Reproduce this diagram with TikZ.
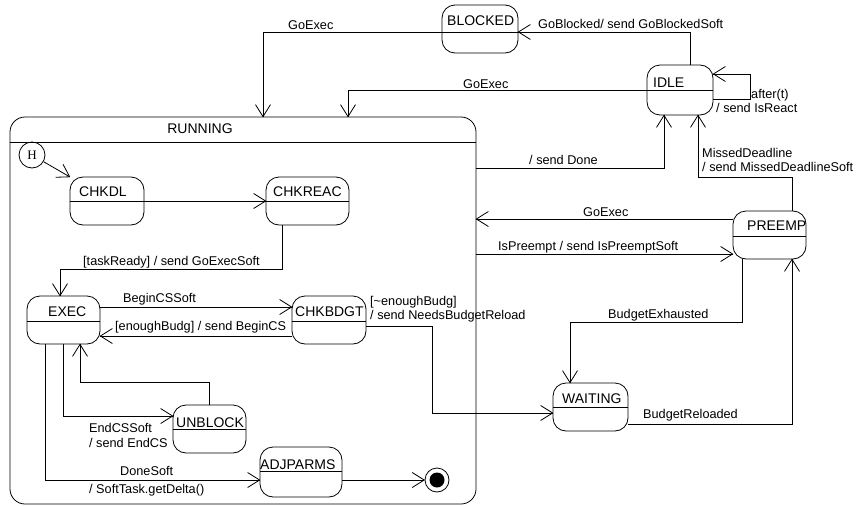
\documentclass[tikz,border=0pt]{standalone}
\usepackage{fontspec}
\setmainfont{Liberation Sans}
\newfontfamily\histfont{Liberation Serif}
\usetikzlibrary{arrows.meta}

\newcommand\lblfont{\fontsize{12.7}{14}\selectfont}
\newcommand\stfont{\fontsize{14}{16}\selectfont}

% open V arrow head made of two straight strokes
\pgfarrowsdeclare{vopen}{vopen}
{\pgfarrowsleftextend{-12pt}\pgfarrowsrightextend{0.4pt}}
{%
  \pgfsetdash{}{0pt}\pgfsetmiterjoin\pgfsetbuttcap
  \pgfpathmoveto{\pgfpoint{-12pt}{7.5pt}}%
  \pgfpathlineto{\pgfpoint{0pt}{0pt}}%
  \pgfpathlineto{\pgfpoint{-12pt}{-7.5pt}}%
  \pgfusepathqstroke
}

\tikzset{
  thinline/.style={line width=0.8pt},
  statebox/.style={draw, thinline, rounded corners=13pt, inner sep=0pt, outer sep=0pt},
  superbox/.style={draw, thinline, rounded corners=15pt, inner sep=0pt, outer sep=0pt},
  sname/.style={anchor=base west, inner sep=0pt, font=\stfont},
  tlabel/.style={anchor=base west, inner sep=0pt, font=\lblfont},
  trans/.style={thinline, -vopen},
}

% simple state: name, cx, cy, width, height, divider y, text x, text baseline y, text
\newcommand\umlstate[9]{%
  \node[statebox, minimum width=#4pt, minimum height=#5pt] (#1) at (#2,#3) {};
  \coordinate (#1-d) at (#2,#6);
  \draw[thinline] (#1.west |- #1-d) -- (#1.east |- #1-d);
  \node[sname] (#1-name) at (#7,#8) {#9};
}

\begin{document}
\begin{tikzpicture}[x=1pt, y=-1pt]
\useasboundingbox (0,0) rectangle (857,506);

% composite state RUNNING
\node[superbox, minimum width=466pt, minimum height=387pt, anchor=north west] (running) at (10,117) {};
\coordinate (run-d) at (0,142);
\draw[thinline] (running.west |- run-d) -- (running.east |- run-d);
\node[sname, anchor=base] (running-name) at (200,133) {RUNNING};

% outer states
\umlstate{blocked}{480}{29}{76}{48}{32}{447}{25}{BLOCKED}
\umlstate{idle}{680}{90}{66}{50}{90}{653}{87}{IDLE}
\umlstate{preemp}{769.5}{235}{73}{48}{236}{747}{230}{PREEMP}
\umlstate{waiting}{590.5}{407}{75}{48}{407}{562}{403}{WAITING}

% inner states
\umlstate{chkdl}{107}{201}{74}{48}{201}{79}{196}{CHKDL}
\umlstate{chkreac}{307.5}{201}{83}{48}{201}{273}{196}{CHKREAC}
\umlstate{exec}{63.5}{320}{73}{48}{321}{48}{316}{EXEC}
\umlstate{chkbdgt}{329}{320}{74}{48}{321}{295}{316}{CHKBDGT}
\umlstate{unblock}{209.5}{429}{73}{48}{429}{176}{427}{UNBLOCK}
\umlstate{adjparms}{301}{472}{82}{50}{471}{260}{469}{ADJPARMS}

% history and final pseudo-states
\node[circle, draw, thinline, minimum size=26pt, inner sep=0pt, font=\histfont\fontsize{13}{14}\selectfont] (hist) at (32,155) {H};
\node[circle, draw, thinline, minimum size=24pt, inner sep=0pt] (final) at (437,480) {};
\node[circle, fill, minimum size=15pt, inner sep=0pt] (final-dot) at (final) {};

% ---- transitions ----
\draw[trans] (hist) -- (chkdl.north west);
\draw[trans] (chkdl.east) -- (chkreac.west);

\coordinate (k1) at (263,32);
\draw[trans] (blocked.west |- k1) -- (k1) -- (running.north -| k1);
\coordinate (k2) at (690,32);
\draw[trans] (idle.north -| k2) -- (k2) -- (blocked.east |- k2);
\coordinate (k3) at (348,90);
\draw[trans] (idle.west |- k3) -- (k3) -- (running.north -| k3);
\coordinate (k4a) at (750,99); \coordinate (k4b) at (750,74);
\draw[trans] (idle.east |- k4a) -- (k4a) -- (k4b) -- (idle.east |- k4b);
\coordinate (k5) at (664,168);
\draw[trans] (running.east |- k5) -- (k5) -- (idle.south -| k5);
\coordinate (k6a) at (792,177); \coordinate (k6b) at (698,177);
\draw[trans] (preemp.north -| k6a) -- (k6a) -- (k6b) -- (idle.south -| k6b);
\coordinate (k7) at (0,219);
\draw[trans] (preemp.west |- k7) -- (running.east |- k7);
\coordinate (k8) at (0,254);
\draw[trans] (running.east |- k8) -- (preemp.west |- k8);
\coordinate (k9a) at (742,322); \coordinate (k9b) at (570,322);
\draw[trans] (preemp.south -| k9a) -- (k9a) -- (k9b) -- (waiting.north -| k9b);
\coordinate (k10) at (792,424);
\draw[trans] (waiting.east |- k10) -- (k10) -- (preemp.south -| k10);

\coordinate (k11a) at (282,269); \coordinate (k11b) at (60,269);
\draw[trans] (chkreac.south -| k11a) -- (k11a) -- (k11b) -- (exec.north -| k11b);
\coordinate (k12) at (0,307); \coordinate (k13) at (0,336);
\draw[trans] (exec.east |- k12) -- (chkbdgt.west |- k12);
\draw[trans] (chkbdgt.west |- k13) -- (exec.east |- k13);
\coordinate (k14a) at (432,326); \coordinate (k14b) at (432,413);
\draw[trans] (chkbdgt.east |- k14a) -- (k14a) -- (k14b) -- (waiting.west |- k14b);
\coordinate (k15) at (63,416);
\draw[trans] (exec.south -| k15) -- (k15) -- (unblock.west |- k15);
\coordinate (k16a) at (209,382); \coordinate (k16b) at (80,382);
\draw[trans] (unblock.north -| k16a) -- (k16a) -- (k16b) -- (exec.south -| k16b);
\coordinate (k17) at (45,480);
\draw[trans] (exec.south -| k17) -- (k17) -- (adjparms.west |- k17);
\draw[trans] (adjparms.east |- final) -- (final);

% ---- transition labels ----
\node[tlabel] (l1) at (288,29) {GoExec};
\node[tlabel] (l2) at (538,28) {GoBlocked/ send GoBlockedSoft};
\node[tlabel] (l3) at (463,88) {GoExec};
\node[tlabel] (l4) at (751,98) {after(t)};
\node[tlabel] (l5) at (716,112) {/ send IsReact};
\node[tlabel] (l6) at (529,164) {/ send Done};
\node[tlabel] (l7) at (702,157) {MissedDeadline};
\node[tlabel] (l8) at (702,171) {/ send MissedDeadlineSoft};
\node[tlabel] (l9) at (583,216) {GoExec};
\node[tlabel] (l10) at (498,250) {IsPreempt / send IsPreemptSoft};
\node[tlabel] (l11) at (83,265) {[taskReady] / send GoExecSoft};
\node[tlabel] (l12) at (123,302) {BeginCSSoft};
\node[tlabel] (l13) at (115,330) {[enoughBudg] / send BeginCS};
\node[tlabel] (l14) at (370,305) {[\textasciitilde enoughBudg]};
\node[tlabel] (l15) at (370,319) {/ send NeedsBudgetReload};
\node[tlabel] (l16) at (608,318) {BudgetExhausted};
\node[tlabel] (l17) at (643,418) {BudgetReloaded};
\node[tlabel] (l18) at (89,432) {EndCSSoft};
\node[tlabel] (l19) at (89,447) {/ send EndCS};
\node[tlabel] (l20) at (120,475) {DoneSoft};
\node[tlabel] (l21) at (89,493) {/ SoftTask.getDelta()};
\end{tikzpicture}
\end{document}
